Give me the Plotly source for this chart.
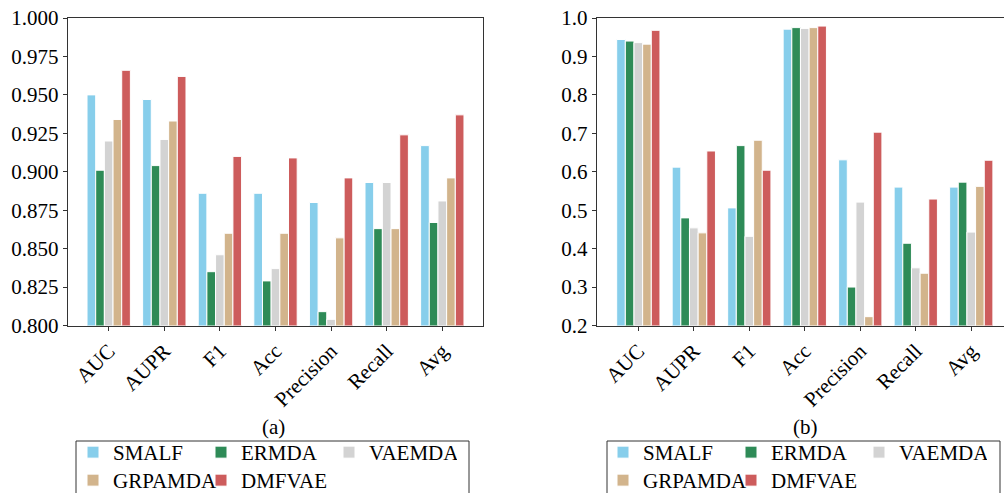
import plotly.graph_objects as go

# Metric categories on the x axis
metrics = ["AUC", "AUPR", "F1", "Acc", "Precision", "Recall", "Avg"]

# Method names and bar colours
methods = ["SMALF", "ERMDA", "VAEMDA", "GRPAMDA", "DMFVAE"]
colors = ["#87CEEB", "#2E8B57", "#D3D3D3", "#D2B48C", "#CD5C5C"]

# Panel (a) scores
smalf_a = [0.950, 0.947, 0.886, 0.886, 0.880, 0.893, 0.917]
ermda_a = [0.901, 0.904, 0.835, 0.829, 0.809, 0.863, 0.867]
vaemda_a = [0.920, 0.921, 0.846, 0.837, 0.804, 0.893, 0.881]
grpamda_a = [0.934, 0.933, 0.860, 0.860, 0.857, 0.863, 0.896]
dmfvae_a = [0.966, 0.962, 0.910, 0.909, 0.896, 0.924, 0.937]

# Panel (b) scores
smalf_b = [0.944, 0.612, 0.506, 0.971, 0.631, 0.560, 0.560]
ermda_b = [0.940, 0.480, 0.668, 0.975, 0.300, 0.414, 0.573]
vaemda_b = [0.936, 0.454, 0.432, 0.973, 0.521, 0.350, 0.443]
grpamda_b = [0.932, 0.441, 0.682, 0.975, 0.223, 0.336, 0.562]
dmfvae_b = [0.968, 0.654, 0.604, 0.979, 0.703, 0.529, 0.630]

# Axis tick values
yticks_a = [0.800, 0.825, 0.850, 0.875, 0.900, 0.925, 0.950, 0.975, 1.000]
yticks_b = [0.2, 0.3, 0.4, 0.5, 0.6, 0.7, 0.8, 0.9, 1.0]

series_a = [smalf_a, ermda_a, vaemda_a, grpamda_a, dmfvae_a]
series_b = [smalf_b, ermda_b, vaemda_b, grpamda_b, dmfvae_b]

W, H = 1004, 493
FONT = "Liberation Serif"
AXC = "#333333"

# Each panel's legend is laid out in two rows of three columns:
# first three methods in the top row, the last two in the bottom row.
row_of = [0, 0, 0, 1, 1]
legend_ids_a = ["legend", "legend3"]
legend_ids_b = ["legend2", "legend4"]

fig = go.Figure()

for i, (name, col, vals) in enumerate(zip(methods, colors, series_a)):
    fig.add_trace(go.Bar(
        x=metrics, y=vals, name=name,
        marker=dict(color=col, line=dict(color="white", width=1)),
        xaxis="x", yaxis="y", legend=legend_ids_a[row_of[i]],
    ))
for i, (name, col, vals) in enumerate(zip(methods, colors, series_b)):
    fig.add_trace(go.Bar(
        x=metrics, y=vals, name=name,
        marker=dict(color=col, line=dict(color="white", width=1)),
        xaxis="x2", yaxis="y2", legend=legend_ids_b[row_of[i]],
    ))

ydom = [1 - 325.5 / H, 1 - 18 / H]
tickfont = dict(family=FONT, size=21, color="black")

common_x = dict(
    type="category", showline=True, linecolor=AXC, linewidth=1,
    ticks="outside", ticklen=4, tickcolor=AXC, tickangle=-45,
    tickfont=tickfont, showgrid=False, zeroline=False, automargin=False,
)
common_y = dict(
    showline=True, linecolor=AXC, linewidth=1, ticks="outside", ticklen=4,
    tickcolor=AXC, tickfont=tickfont, showgrid=False, zeroline=False,
    domain=ydom, automargin=False,
)

legend_common = dict(
    orientation="h", xanchor="left", yanchor="top",
    font=dict(family=FONT, size=21, color="black"),
    borderwidth=0, bgcolor="rgba(0,0,0,0)",
    entrywidth=83, traceorder="normal",
)

row_tops = [432, 460]
leg_x_a, leg_x_b = 73, 603

fig.update_layout(
    width=W, height=H,
    margin=dict(l=0, r=0, t=0, b=0, autoexpand=False),
    paper_bgcolor="white", plot_bgcolor="white",
    barmode="group", bargap=0.22, bargroupgap=0,
    xaxis=dict(common_x, domain=[67.7 / W, 483.3 / W], range=[-0.7375, 6.7375],
               mirror=True, anchor="y"),
    yaxis=dict(common_y, range=[0.8, 1.0], tickvals=yticks_a, tickformat=".3f",
               mirror=True, anchor="x"),
    xaxis2=dict(common_x, domain=[596.7 / W, 1.0], range=[-0.75, 6.59],
                mirror=True, anchor="y2"),
    yaxis2=dict(common_y, range=[0.2, 1.0], tickvals=yticks_b, tickformat=".1f",
                mirror=False, anchor="x2"),
    legend=dict(legend_common, x=leg_x_a / W, y=1 - row_tops[0] / H),
    legend3=dict(legend_common, x=leg_x_a / W, y=1 - row_tops[1] / H),
    legend2=dict(legend_common, x=leg_x_b / W, y=1 - row_tops[0] / H),
    legend4=dict(legend_common, x=leg_x_b / W, y=1 - row_tops[1] / H),
    shapes=[
        # legend frames (running off the bottom edge)
        dict(type="rect", xref="paper", yref="paper",
             x0=76 / W, x1=469 / W, y0=-20 / H, y1=1 - 441 / H,
             line=dict(color=AXC, width=1), fillcolor="rgba(0,0,0,0)", layer="below"),
        dict(type="rect", xref="paper", yref="paper",
             x0=607 / W, x1=1000 / W, y0=-20 / H, y1=1 - 441 / H,
             line=dict(color=AXC, width=1), fillcolor="rgba(0,0,0,0)", layer="below"),
    ],
    annotations=[
        dict(text="(a)", x=273 / W, y=1 - 427 / H, xref="paper", yref="paper",
             showarrow=False, font=dict(family=FONT, size=21, color="black"),
             xanchor="center", yanchor="middle"),
        dict(text="(b)", x=805 / W, y=1 - 427 / H, xref="paper", yref="paper",
             showarrow=False, font=dict(family=FONT, size=21, color="black"),
             xanchor="center", yanchor="middle"),
    ],
)

fig.write_html("out.html")
